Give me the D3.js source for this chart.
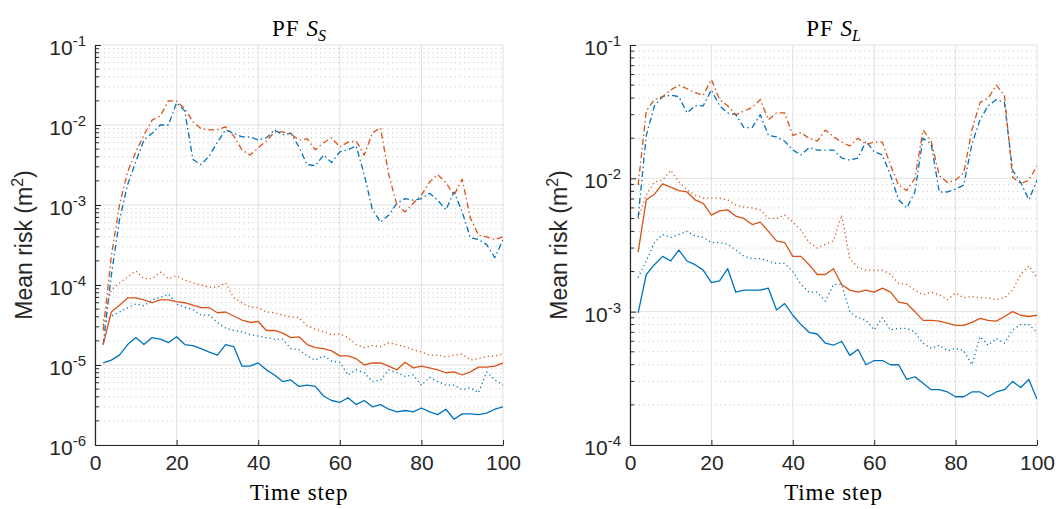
<!DOCTYPE html>
<html>
<head>
<meta charset="utf-8">
<script src="https://cdn.jsdelivr.net/npm/d3@7"></script>
<style>
  html, body { margin: 0; padding: 0; background: #fff; }
  svg { display: block; }
</style>
</head>
<body>
<svg id="chart" width="1059" height="509"></svg>
<script>
// ---------- DATA (time steps 2,4,...,100) ----------
const timeSteps = d3.range(2, 101, 2);
const xTicks = [0, 20, 40, 60, 80, 100];
const leftYTicks = [1e-6, 1e-5, 1e-4, 1e-3, 1e-2, 1e-1];
const rightYTicks = [1e-4, 1e-3, 1e-2, 1e-1];
const titles = ["S", "L"];   // subscripts of "PF S_x"
const xLabel = "Time step";
const yLabel = "Mean risk (m";

// Left panel (PF S_S)
const leftBlueSolid = [1.06e-5,1.15e-5,1.33e-5,1.8e-5,2.2e-5,1.8e-5,2.2e-5,2.1e-5,1.9e-5,2.25e-5,
  1.8e-5,1.75e-5,1.6e-5,1.45e-5,1.33e-5,1.8e-5,1.7e-5,9.7e-6,9.7e-6,1.06e-5,
  8.7e-6,7.5e-6,6.2e-6,6.5e-6,5.4e-6,5.6e-6,5.4e-6,4.1e-6,3.6e-6,3.4e-6,
  3.9e-6,3.2e-6,3.6e-6,3.0e-6,3.2e-6,2.8e-6,2.6e-6,2.7e-6,2.6e-6,2.9e-6,
  2.6e-6,2.4e-6,2.8e-6,2.1e-6,2.45e-6,2.45e-6,2.4e-6,2.5e-6,2.8e-6,3.0e-6];
const leftBlueDotted = [3.2e-5,4.1e-5,4.6e-5,5.2e-5,5.8e-5,5.5e-5,6.5e-5,7.0e-5,7.7e-5,5.8e-5,
  5.3e-5,4.9e-5,4.2e-5,4.2e-5,3.4e-5,2.9e-5,2.7e-5,2.6e-5,2.4e-5,2.3e-5,
  2.2e-5,2.1e-5,2.1e-5,1.6e-5,1.55e-5,1.3e-5,1.15e-5,1.3e-5,1.12e-5,1.08e-5,
  7.5e-6,8.7e-6,8.0e-6,6.2e-6,6.5e-6,8.7e-6,8.0e-6,7.2e-6,7.5e-6,5.6e-6,
  7.0e-6,6.2e-6,5.6e-6,5.6e-6,4.9e-6,5.2e-6,4.5e-6,8.2e-6,6.5e-6,5.6e-6];
const leftBlueDashDot = [1.8e-5,1.33e-4,6.5e-4,1.8e-3,3.5e-3,6.5e-3,7.9e-3,1.0e-2,1.0e-2,1.9e-2,
  1.5e-2,3.7e-3,3.2e-3,4.1e-3,6.1e-3,8.7e-3,7.9e-3,7.1e-3,7.1e-3,6.5e-3,
  6.9e-3,8.7e-3,7.5e-3,7.9e-3,5.3e-3,3.2e-3,3.1e-3,4.2e-3,3.4e-3,4.6e-3,
  4.9e-3,5.5e-3,2.4e-3,8.7e-4,6.1e-4,7.5e-4,1.05e-3,1.2e-3,1.15e-3,1.2e-3,
  1.4e-3,1.15e-3,8.7e-4,1.45e-3,8.2e-4,3.9e-4,3.7e-4,3.2e-4,2.2e-4,3.7e-4];
const leftOrangeSolid = [1.8e-5,4.6e-5,5.6e-5,6.9e-5,6.9e-5,6.5e-5,6.0e-5,6.5e-5,6.5e-5,6.2e-5,
  6.0e-5,5.6e-5,5.2e-5,5.2e-5,4.5e-5,4.6e-5,4.1e-5,3.65e-5,3.4e-5,3.5e-5,
  2.7e-5,2.7e-5,2.5e-5,2.2e-5,2.25e-5,1.8e-5,1.65e-5,1.6e-5,1.5e-5,1.3e-5,
  1.3e-5,1.2e-5,1.0e-5,1.06e-5,1.06e-5,9.7e-6,8.7e-6,1.08e-5,9.2e-6,9.7e-6,
  9.2e-6,8.7e-6,8.0e-6,8.2e-6,7.5e-6,8.2e-6,9.4e-6,9.4e-6,9.7e-6,1.06e-5];
const leftOrangeDotted = [3.6e-5,8.7e-5,1.06e-4,1.26e-4,1.5e-4,1.2e-4,1.2e-4,1.45e-4,1.2e-4,1.3e-4,
  1.15e-4,1.06e-4,1.0e-4,9.4e-5,9.4e-5,1.06e-4,6.9e-5,6.0e-5,5.3e-5,5.2e-5,
  4.6e-5,4.5e-5,4.2e-5,4.0e-5,3.9e-5,3.1e-5,2.8e-5,2.6e-5,2.4e-5,2.45e-5,
  2.2e-5,1.8e-5,1.65e-5,1.75e-5,1.7e-5,1.9e-5,1.8e-5,1.7e-5,1.55e-5,1.45e-5,
  1.33e-5,1.33e-5,1.26e-5,1.33e-5,1.37e-5,1.15e-5,1.2e-5,1.28e-5,1.3e-5,1.37e-5];
const leftOrangeDashDot = [2.7e-5,2.3e-4,1.0e-3,2.6e-3,4.6e-3,7.5e-3,1.15e-2,1.3e-2,2.0e-2,2.0e-2,
  1.6e-2,1.1e-2,9.0e-3,8.7e-3,8.7e-3,9.5e-3,7.3e-3,4.9e-3,4.2e-3,5.2e-3,
  6.3e-3,8.2e-3,8.2e-3,7.7e-3,6.5e-3,6.7e-3,4.9e-3,6.0e-3,6.9e-3,5.3e-3,
  6.1e-3,6.3e-3,4.2e-3,8.0e-3,9.2e-3,2.4e-3,1.0e-3,8.2e-4,1.05e-3,1.33e-3,
  1.94e-3,2.4e-3,1.9e-3,1.33e-3,2.1e-3,6.9e-4,4.2e-4,4.0e-4,3.7e-4,4.0e-4];

// Right panel (PF S_L)
const rightBlueSolid = [9.8e-4,1.9e-3,2.25e-3,2.6e-3,2.4e-3,2.9e-3,2.4e-3,2.25e-3,2.05e-3,1.65e-3,
  1.7e-3,2.1e-3,1.4e-3,1.45e-3,1.45e-3,1.45e-3,1.5e-3,1.03e-3,1.15e-3,9.4e-4,
  8.0e-4,7.0e-4,6.8e-4,5.8e-4,5.6e-4,6.0e-4,4.7e-4,5.2e-4,4.0e-4,4.3e-4,
  4.3e-4,4.0e-4,4.0e-4,3.1e-4,3.25e-4,2.9e-4,2.6e-4,2.6e-4,2.5e-4,2.3e-4,
  2.3e-4,2.5e-4,2.5e-4,2.3e-4,2.5e-4,2.6e-4,3.0e-4,2.7e-4,3.1e-4,2.2e-4];
const rightBlueDotted = [1.8e-3,2.4e-3,3.3e-3,3.8e-3,3.6e-3,3.8e-3,4.0e-3,3.7e-3,3.6e-3,3.3e-3,
  3.3e-3,3.2e-3,2.9e-3,2.6e-3,2.5e-3,2.5e-3,2.4e-3,2.3e-3,2.3e-3,2.0e-3,
  1.6e-3,1.4e-3,1.4e-3,1.2e-3,1.6e-3,1.6e-3,1.0e-3,9.0e-4,8.6e-4,7.3e-4,
  9.0e-4,7.3e-4,7.5e-4,7.5e-4,7.0e-4,5.8e-4,5.3e-4,5.6e-4,5.1e-4,5.3e-4,
  5.1e-4,4.0e-4,6.5e-4,5.6e-4,6.3e-4,5.8e-4,7.3e-4,8.0e-4,8.0e-4,7.0e-4];
const rightBlueDashDot = [5.1e-3,2.1e-2,3.5e-2,4.1e-2,4.2e-2,4.1e-2,3.1e-2,3.5e-2,3.5e-2,4.6e-2,
  3.5e-2,3.1e-2,3.0e-2,2.4e-2,2.4e-2,3.0e-2,2.1e-2,2.05e-2,1.9e-2,1.63e-2,
  1.5e-2,1.7e-2,1.63e-2,1.63e-2,1.63e-2,1.42e-2,1.37e-2,1.42e-2,1.9e-2,1.58e-2,
  1.5e-2,1.06e-2,6.9e-3,6.0e-3,7.9e-3,2.0e-2,1.8e-2,7.9e-3,7.9e-3,8.3e-3,
  8.9e-3,1.8e-2,2.75e-2,3.5e-2,3.9e-2,3.7e-2,1.15e-2,9.3e-3,6.9e-3,9.7e-3];
const rightOrangeSolid = [2.8e-3,6.9e-3,7.6e-3,9.1e-3,8.6e-3,8.1e-3,7.9e-3,6.9e-3,6.5e-3,5.3e-3,
  5.7e-3,5.8e-3,5.2e-3,5.0e-3,4.5e-3,4.7e-3,4.0e-3,3.4e-3,3.3e-3,2.6e-3,
  2.6e-3,2.25e-3,1.9e-3,1.9e-3,2.1e-3,1.6e-3,1.45e-3,1.4e-3,1.45e-3,1.4e-3,
  1.5e-3,1.4e-3,1.18e-3,1.15e-3,1.0e-3,8.6e-4,8.6e-4,8.5e-4,8.2e-4,7.9e-4,
  7.9e-4,8.3e-4,8.9e-4,8.6e-4,8.5e-4,9.2e-4,1.0e-3,9.4e-4,9.2e-4,9.4e-4];
const rightOrangeDotted = [5.0e-3,7.5e-3,9.4e-3,9.7e-3,1.15e-2,9.4e-3,8.2e-3,7.5e-3,7.1e-3,7.1e-3,
  7.1e-3,6.9e-3,6.3e-3,6.1e-3,6.0e-3,5.8e-3,5.0e-3,5.0e-3,5.3e-3,4.7e-3,
  4.1e-3,3.3e-3,3.0e-3,3.2e-3,3.4e-3,5.3e-3,2.5e-3,2.15e-3,2.05e-3,2.05e-3,
  2.05e-3,1.9e-3,1.63e-3,1.6e-3,1.45e-3,1.34e-3,1.4e-3,1.34e-3,1.23e-3,1.38e-3,
  1.27e-3,1.3e-3,1.27e-3,1.27e-3,1.23e-3,1.27e-3,1.45e-3,1.9e-3,2.2e-3,1.8e-3];
const rightOrangeDashDot = [8.9e-3,3.2e-2,3.9e-2,4.1e-2,4.6e-2,5.0e-2,4.7e-2,4.4e-2,4.2e-2,5.5e-2,
  3.9e-2,3.5e-2,3.0e-2,3.2e-2,3.4e-2,3.9e-2,2.75e-2,3.1e-2,3.1e-2,2.1e-2,
  2.2e-2,2.0e-2,1.9e-2,2.3e-2,2.05e-2,1.87e-2,1.75e-2,2.0e-2,1.8e-2,1.87e-2,
  1.87e-2,1.26e-2,8.9e-3,8.1e-3,1.0e-2,2.3e-2,1.9e-2,1.05e-2,9.3e-3,9.7e-3,
  1.1e-2,2.3e-2,3.7e-2,4.0e-2,5.0e-2,4.2e-2,1.02e-2,9.1e-3,9.7e-3,1.24e-2];

// ---------- STYLE ----------
const BLUE = "#0072BD", ORANGE = "#D95319";
const AXIS = "#262626";
const DASH = { solid: null, dotted: "1.2,3", dashdot: "6,3,1.5,3" };
const SERIF = "'Liberation Serif', 'Times New Roman', serif";
const SANS = "'Liberation Sans', Arial, sans-serif";

const svg = d3.select("#chart");

function drawPanel(opts) {
  const { x0, x1, y0, y1, yDomain, yTicks, series, sub, id } = opts;
  const x = d3.scaleLinear().domain([0, 100]).range([x0, x1]);
  const y = d3.scaleLog().domain(yDomain).range([y1, y0]);
  const g = svg.append("g");

  // minor dotted horizontal grid
  const minors = [];
  const dLo = Math.round(Math.log10(yDomain[0])), dHi = Math.round(Math.log10(yDomain[1]));
  for (let d = dLo; d < dHi; d++) for (let m = 2; m <= 9; m++) minors.push(m * Math.pow(10, d));
  g.append("g").selectAll("line").data(minors).join("line")
    .attr("x1", x0).attr("x2", x1)
    .attr("y1", d => y(d)).attr("y2", d => y(d))
    .attr("stroke", "#c4c4c4").attr("stroke-width", 1)
    .attr("stroke-dasharray", "1,3.5");

  // major grid
  g.append("g").selectAll("line").data(yTicks).join("line")
    .attr("x1", x0).attr("x2", x1)
    .attr("y1", d => y(d)).attr("y2", d => y(d))
    .attr("stroke", "#e1e1e1").attr("stroke-width", 1);
  g.append("g").selectAll("line").data(xTicks).join("line")
    .attr("x1", d => x(d)).attr("x2", d => x(d))
    .attr("y1", y0).attr("y2", y1)
    .attr("stroke", "#e1e1e1").attr("stroke-width", 1);

  // clip
  svg.append("clipPath").attr("id", id).append("rect")
    .attr("x", x0).attr("y", y0).attr("width", x1 - x0).attr("height", y1 - y0);

  const line = d3.line().x((d, i) => x(timeSteps[i])).y(d => y(d));
  const lg = g.append("g").attr("clip-path", `url(#${id})`);
  series.forEach(s => {
    lg.append("path").datum(s.values)
      .attr("d", line)
      .attr("fill", "none")
      .attr("stroke", s.color)
      .attr("stroke-width", 1.3)
      .attr("stroke-linejoin", "round")
      .attr("stroke-dasharray", DASH[s.style]);
  });

  // axes
  const xAxis = d3.axisBottom(x).tickValues(xTicks).tickSizeInner(-5).tickSizeOuter(0).tickPadding(10)
    .tickFormat(d3.format("d"));
  const xa = g.append("g").attr("transform", `translate(0,${y1})`).call(xAxis);
  xa.select(".domain").attr("stroke", AXIS).attr("stroke-width", 1.2);
  xa.selectAll(".tick line").attr("stroke", AXIS);
  xa.selectAll(".tick text").attr("fill", AXIS)
    .style("font-family", SANS).style("font-size", "21px")
    .attr("dy", "0.71em");

  const yAxis = d3.axisLeft(y).tickValues(yTicks).tickSizeInner(-6).tickSizeOuter(0).tickPadding(9)
    .tickFormat("");
  const ya = g.append("g").attr("transform", `translate(${x0},0)`).call(yAxis);
  ya.select(".domain").attr("stroke", AXIS).attr("stroke-width", 1.2);
  ya.selectAll(".tick line").attr("stroke", AXIS);
  // minor ticks
  ya.append("g").selectAll("line").data(minors).join("line")
    .attr("x1", 0).attr("x2", 4)
    .attr("y1", d => y(d)).attr("y2", d => y(d))
    .attr("stroke", AXIS).attr("stroke-width", 1);
  // tick labels 10^n
  yTicks.forEach(v => {
    const e = Math.round(Math.log10(v));
    const t = g.append("text")
      .attr("x", x0 - 9).attr("y", y(v) + 10)
      .attr("text-anchor", "end")
      .attr("fill", AXIS)
      .style("font-family", SANS).style("font-size", "21px");
    t.append("tspan").text("10");
    t.append("tspan").attr("dy", -9).style("font-size", "15px").text(String(e));
  });

  // title
  const cx = (x0 + x1) / 2;
  const tt = g.append("text").attr("x", cx).attr("y", 36).attr("text-anchor", "middle")
    .attr("fill", "#000")
    .style("font-family", SERIF).style("font-size", "23px");
  tt.append("tspan").style("letter-spacing", "1px").text("PF ");
  tt.append("tspan").style("font-style", "italic").text("S");
  tt.append("tspan").style("font-style", "italic").style("font-size", "16px").attr("dy", 5).text(sub);

  // x label
  g.append("text").attr("x", cx).attr("y", y1 + 55).attr("text-anchor", "middle")
    .attr("fill", "#000")
    .style("font-family", SERIF).style("font-size", "23px").style("letter-spacing", "0.9px")
    .text(xLabel);

  // y label
  const yl = g.append("text")
    .attr("transform", `translate(${x0 - 63},${(y0 + y1) / 2}) rotate(-90)`)
    .attr("text-anchor", "middle").attr("fill", AXIS)
    .style("font-family", SANS).style("font-size", "23px");
  yl.append("tspan").text(yLabel);
  yl.append("tspan").attr("dy", -9).style("font-size", "16px").text("2");
  yl.append("tspan").attr("dy", 9).text(")");
}

drawPanel({
  id: "clipL", x0: 95, x1: 503, y0: 45, y1: 445,
  yDomain: [1e-6, 1e-1], yTicks: leftYTicks, sub: titles[0],
  series: [
    { values: leftBlueSolid, color: BLUE, style: "solid" },
    { values: leftBlueDotted, color: BLUE, style: "dotted" },
    { values: leftBlueDashDot, color: BLUE, style: "dashdot" },
    { values: leftOrangeSolid, color: ORANGE, style: "solid" },
    { values: leftOrangeDotted, color: ORANGE, style: "dotted" },
    { values: leftOrangeDashDot, color: ORANGE, style: "dashdot" }
  ]
});
drawPanel({
  id: "clipR", x0: 630, x1: 1037, y0: 45, y1: 445,
  yDomain: [1e-4, 1e-1], yTicks: rightYTicks, sub: titles[1],
  series: [
    { values: rightBlueSolid, color: BLUE, style: "solid" },
    { values: rightBlueDotted, color: BLUE, style: "dotted" },
    { values: rightBlueDashDot, color: BLUE, style: "dashdot" },
    { values: rightOrangeSolid, color: ORANGE, style: "solid" },
    { values: rightOrangeDotted, color: ORANGE, style: "dotted" },
    { values: rightOrangeDashDot, color: ORANGE, style: "dashdot" }
  ]
});
</script>
</body>
</html>
